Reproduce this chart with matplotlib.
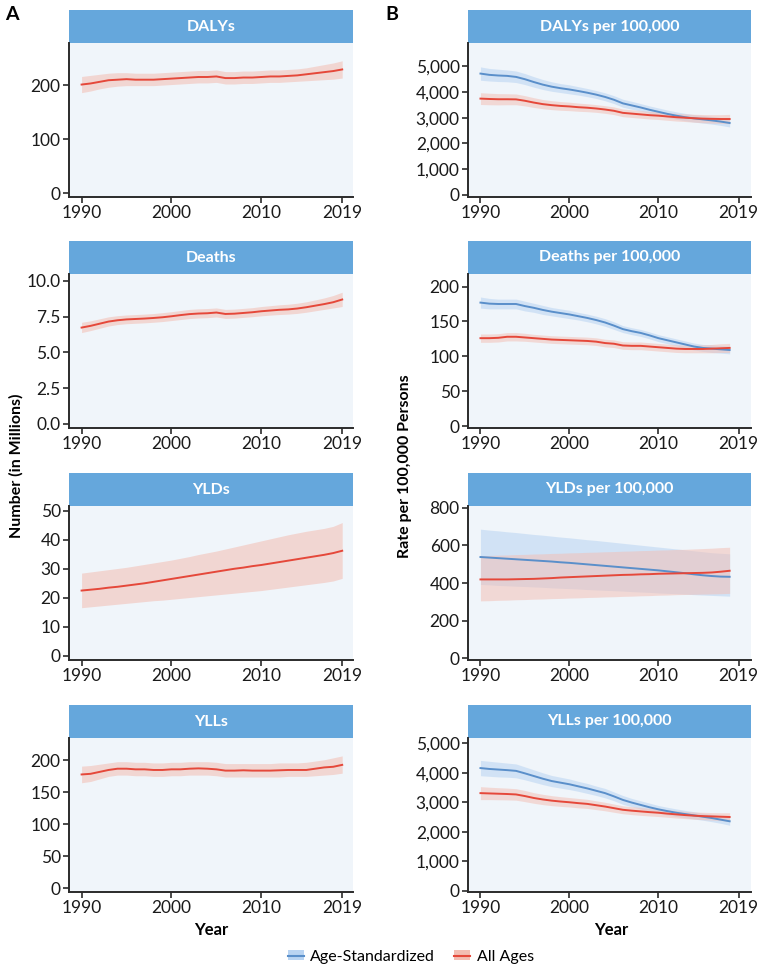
import matplotlib
matplotlib.use("Agg")
import matplotlib.pyplot as plt
from matplotlib.patches import Rectangle, Patch
from matplotlib.lines import Line2D
from matplotlib.ticker import FuncFormatter

plt.rcParams['font.family'] = ['Lato', 'DejaVu Sans']

# ---- data ----
years_a = list(range(1990, 2020))
years_b = list(range(1990, 2019))

dalys = [201, 203, 206, 209, 210, 211, 210, 210, 210, 211, 212, 213, 214, 215, 215, 216, 213, 213, 214, 214, 215, 216, 216, 217, 218, 220, 222, 224, 226, 229]
dalys_lo = [186, 189, 193, 196, 198, 199, 199, 199, 199, 200, 201, 202, 203, 204, 204, 205, 202, 202, 203, 203, 204, 205, 205, 206, 207, 208, 209, 210, 211, 213]
dalys_hi = [216, 218, 220, 222, 223, 223, 222, 222, 222, 223, 224, 225, 226, 227, 227, 228, 225, 225, 226, 226, 227, 228, 228, 229, 230, 232, 235, 238, 241, 245]

deaths = [6.73, 6.85, 7.0, 7.15, 7.24, 7.3, 7.33, 7.36, 7.4, 7.45, 7.52, 7.6, 7.67, 7.71, 7.73, 7.78, 7.68, 7.7, 7.75, 7.8, 7.87, 7.92, 7.97, 8.0, 8.06, 8.15, 8.26, 8.37, 8.5, 8.69]
deaths_lo = [6.38, 6.52, 6.68, 6.84, 6.94, 7.0, 7.03, 7.06, 7.1, 7.15, 7.22, 7.29, 7.36, 7.4, 7.42, 7.47, 7.37, 7.39, 7.44, 7.49, 7.55, 7.6, 7.64, 7.67, 7.72, 7.8, 7.9, 8.0, 8.1, 8.2]
deaths_hi = [7.1, 7.2, 7.34, 7.48, 7.56, 7.61, 7.64, 7.67, 7.71, 7.77, 7.84, 7.92, 8.0, 8.04, 8.06, 8.1, 8.0, 8.02, 8.07, 8.12, 8.2, 8.26, 8.32, 8.36, 8.43, 8.53, 8.66, 8.8, 8.97, 9.2]

ylds = [22.5, 22.8, 23.1, 23.5, 23.8, 24.2, 24.6, 25.0, 25.5, 26.0, 26.5, 27.0, 27.5, 28.0, 28.5, 29.0, 29.5, 30.0, 30.4, 30.9, 31.3, 31.8, 32.3, 32.8, 33.3, 33.8, 34.3, 34.8, 35.4, 36.2]
ylds_lo = [16.6, 16.9, 17.2, 17.5, 17.8, 18.1, 18.4, 18.7, 19.0, 19.2, 19.5, 19.8, 20.1, 20.4, 20.7, 21.0, 21.3, 21.6, 21.9, 22.2, 22.5, 22.9, 23.3, 23.7, 24.1, 24.5, 24.9, 25.3, 25.8, 26.7]
ylds_hi = [28.5, 28.9, 29.3, 29.7, 30.1, 30.5, 31.0, 31.5, 32.0, 32.5, 33.0, 33.6, 34.2, 34.9, 35.5, 36.1, 36.8, 37.5, 38.2, 38.9, 39.6, 40.3, 41.0, 41.7, 42.3, 42.9, 43.4, 43.9, 44.6, 45.9]

ylls = [178, 179, 182, 185, 187, 187, 186, 186, 185, 185, 186, 186, 187, 187.5, 187, 186, 184, 184, 184.5, 184, 184, 184, 184.5, 185, 185, 185, 187, 189, 190, 193]
ylls_lo = [165, 167, 171, 175, 177, 177, 176, 176, 175, 175, 176, 176, 177, 177, 177, 176, 174, 174, 174, 174, 174, 174, 174, 175, 175, 175, 176, 177, 178, 180]
ylls_hi = [191, 192, 194, 196, 198, 198, 197, 197, 196, 196, 197, 197, 198, 198, 198, 197, 195, 195, 195, 195, 195, 195, 196, 196, 196, 197, 199, 201, 204, 207]

dalys_as = [4720, 4670, 4645, 4630, 4590, 4500, 4390, 4290, 4210, 4150, 4100, 4040, 3975, 3900, 3810, 3700, 3560, 3480, 3400, 3310, 3230, 3150, 3080, 3020, 2975, 2935, 2895, 2850, 2795]
dalys_as_lo = [4460, 4430, 4410, 4400, 4370, 4290, 4190, 4100, 4030, 3980, 3930, 3880, 3820, 3750, 3660, 3550, 3410, 3330, 3260, 3170, 3090, 3010, 2940, 2880, 2830, 2790, 2750, 2700, 2640]
dalys_as_hi = [4980, 4920, 4890, 4860, 4820, 4720, 4600, 4490, 4400, 4330, 4280, 4210, 4140, 4060, 3970, 3860, 3720, 3640, 3550, 3460, 3380, 3300, 3230, 3170, 3120, 3090, 3050, 3010, 2960]
dalys_all = [3745, 3730, 3720, 3720, 3715, 3660, 3590, 3530, 3490, 3460, 3440, 3410, 3390, 3360, 3320, 3270, 3190, 3160, 3130, 3100, 3080, 3050, 3020, 3000, 2980, 2965, 2955, 2950, 2950]
dalys_all_lo = [3515, 3505, 3500, 3505, 3505, 3460, 3400, 3350, 3315, 3290, 3275, 3250, 3235, 3210, 3170, 3120, 3040, 3010, 2980, 2950, 2930, 2900, 2870, 2850, 2825, 2805, 2790, 2780, 2770]
dalys_all_hi = [3975, 3955, 3940, 3935, 3925, 3860, 3780, 3710, 3665, 3630, 3605, 3570, 3545, 3510, 3470, 3420, 3340, 3310, 3280, 3250, 3230, 3200, 3170, 3150, 3135, 3125, 3120, 3120, 3130]

deaths_as = [177, 175.5, 175, 175, 175, 172, 169.5, 166.5, 164, 162, 160, 157.5, 155, 152, 148.5, 144, 139, 136, 133.5, 130, 126, 123, 120, 117, 114, 112, 111, 110, 109]
deaths_as_lo = [169, 168, 168, 168, 168, 165, 163, 160, 158, 156, 154, 152, 149.5, 146.5, 143, 138.5, 134, 131, 128.5, 125, 121, 118, 115, 112, 109, 107, 105.5, 104.5, 103.5]
deaths_as_hi = [185, 183, 182, 182, 182, 179, 176, 173, 170, 168, 166, 163, 160.5, 157.5, 154, 149.5, 144, 141, 138.5, 135, 131, 128, 125, 122, 119, 117, 116.5, 115.5, 114.5]
deaths_all = [126, 126, 126.5, 128, 128, 127, 126, 125, 124, 123.5, 123, 122.5, 122, 121, 119, 118, 115.5, 115, 115, 114, 113, 112, 111, 110.5, 110.5, 110.5, 111, 111.5, 112]
deaths_all_lo = [120, 120, 120.5, 122, 122, 121.5, 120.5, 119.5, 118.5, 118, 117.5, 117, 116.5, 115.5, 113.5, 112.5, 110, 109.5, 109.5, 108.5, 107.5, 106.5, 105.5, 105, 105, 105, 105, 105.5, 105.5]
deaths_all_hi = [132, 132, 132.5, 134, 134, 133, 131.5, 130.5, 129.5, 129, 128.5, 128, 127.5, 126.5, 124.5, 123.5, 121, 120.5, 120.5, 119.5, 118.5, 117.5, 116.5, 116, 116, 116.5, 117, 118, 118.5]

ylds_as = [538, 535, 532, 529, 526, 523, 520, 517, 514, 510, 507, 503, 499, 495, 491, 487, 483, 479, 475, 471, 467, 462, 457, 452, 446, 441, 437, 434, 433]
ylds_as_lo = [392, 390, 387, 385, 383, 381, 379, 377, 374, 372, 370, 368, 365, 363, 361, 359, 357, 354, 352, 350, 347, 345, 343, 341, 338, 336, 334, 332, 330]
ylds_as_hi = [686, 681, 677, 672, 668, 663, 658, 654, 649, 644, 640, 635, 630, 626, 621, 616, 611, 606, 601, 596, 591, 586, 581, 576, 571, 566, 561, 558, 555]
ylds_all = [419, 419, 419, 419, 420, 421, 422, 424, 426, 429, 431, 433, 435, 437, 439, 441, 443, 444, 446, 447, 449, 450, 451, 452, 453, 454, 456, 460, 465]
ylds_all_lo = [305, 306, 308, 309, 311, 312, 314, 315, 317, 318, 320, 321, 323, 324, 326, 327, 329, 330, 332, 333, 335, 336, 338, 339, 340, 341, 342, 343, 345]
ylds_all_hi = [545, 546, 548, 549, 551, 552, 554, 555, 557, 558, 560, 561, 563, 564, 566, 567, 569, 570, 572, 573, 575, 576, 578, 579, 581, 583, 585, 588, 590]

ylls_as = [4160, 4130, 4110, 4090, 4065, 3980, 3890, 3800, 3720, 3665, 3610, 3540, 3470, 3390, 3310, 3200, 3080, 2990, 2910, 2830, 2760, 2700, 2645, 2600, 2555, 2510, 2465, 2410, 2355]
ylls_as_lo = [3900, 3880, 3860, 3850, 3830, 3760, 3680, 3600, 3530, 3480, 3430, 3370, 3300, 3230, 3150, 3050, 2930, 2850, 2770, 2690, 2630, 2570, 2515, 2475, 2430, 2390, 2340, 2285, 2220]
ylls_as_hi = [4420, 4390, 4360, 4330, 4300, 4200, 4100, 4000, 3910, 3850, 3790, 3710, 3640, 3550, 3470, 3350, 3230, 3130, 3050, 2970, 2890, 2830, 2775, 2725, 2680, 2630, 2590, 2535, 2490]
ylls_all = [3310, 3300, 3290, 3280, 3265, 3210, 3145, 3095, 3055, 3025, 3000, 2970, 2945, 2900, 2855, 2800, 2745, 2715, 2690, 2665, 2645, 2615, 2590, 2565, 2545, 2530, 2520, 2510, 2500]
ylls_all_lo = [3090, 3090, 3085, 3080, 3070, 3020, 2965, 2920, 2885, 2860, 2840, 2810, 2790, 2750, 2710, 2660, 2610, 2580, 2555, 2535, 2515, 2490, 2465, 2445, 2425, 2410, 2395, 2380, 2360]
ylls_all_hi = [3530, 3510, 3495, 3480, 3460, 3400, 3325, 3270, 3225, 3190, 3160, 3130, 3100, 3050, 3000, 2940, 2880, 2850, 2825, 2795, 2775, 2745, 2720, 2690, 2670, 2660, 2650, 2645, 2645]

titles_a = ["DALYs", "Deaths", "YLDs", "YLLs"]
titles_b = ["DALYs per 100,000", "Deaths per 100,000", "YLDs per 100,000", "YLLs per 100,000"]
xticks = [1990, 2000, 2010, 2019]

# colours
HEAD = '#65A7DC'
BG = '#F0F5FA'
RED = '#E5483A'
BLUE = '#5A8FCA'
RED_FILL = '#F3BDB2'
BLUE_FILL = '#B9D4F2'

W, H = 759, 966
fig = plt.figure(figsize=(W / 100, H / 100), dpi=100)

# pixel layout of the plotting areas (below the header strips)
tops = [43, 274, 506, 738]
bottoms = [197, 428, 660, 892]
left_a, left_b = 69, 468
width_a, width_b = 284, 283
head_h = 33


def make_ax(left, width, top, bottom, xmax):
    ax = fig.add_axes([left / W, 1 - bottom / H, width / W, (bottom - top) / H])
    ax.set_facecolor(BG)
    for s in ['top', 'right']:
        ax.spines[s].set_visible(False)
    for s in ['left', 'bottom']:
        ax.spines[s].set_linewidth(1.4)
        ax.spines[s].set_color('#2b2b2b')
    ax.tick_params(length=4, width=1.2, color='#2b2b2b', labelsize=12.5, labelcolor='#1a1a1a', pad=2)
    ax.set_xlim(1988.6, xmax)
    ax.set_xticks(xticks)
    return ax


def header(ax, title, top, bottom):
    h = head_h / (bottom - top)
    ax.add_patch(Rectangle((0, 1), 1, h, transform=ax.transAxes, facecolor=HEAD,
                           edgecolor='none', clip_on=False))
    ax.text(0.5, 1 + h / 2, title, transform=ax.transAxes, ha='center', va='center',
            color='white', fontsize=11.5, fontweight='bold')


comma = FuncFormatter(lambda v, p: '{:,.0f}'.format(v))
onedec = FuncFormatter(lambda v, p: '{:.1f}'.format(v))

# ---- column A ----
a_series = [(dalys, dalys_lo, dalys_hi), (deaths, deaths_lo, deaths_hi),
            (ylds, ylds_lo, ylds_hi), (ylls, ylls_lo, ylls_hi)]
a_ylims = [(-7.4, 278), (-0.28, 10.47), (-1.4, 51.6), (-5.8, 235)]
a_yticks = [[0, 100, 200], [0, 2.5, 5, 7.5, 10], [0, 10, 20, 30, 40, 50], [0, 50, 100, 150, 200]]

for i in range(4):
    ax = make_ax(left_a, width_a, tops[i], bottoms[i], 2020.2)
    y, lo, hi = a_series[i]
    ax.fill_between(years_a, lo, hi, color=RED_FILL, alpha=0.55, lw=0)
    ax.plot(years_a, y, color=RED, lw=1.4)
    ax.set_ylim(*a_ylims[i])
    ax.set_yticks(a_yticks[i])
    if i == 1:
        ax.yaxis.set_major_formatter(onedec)
    header(ax, titles_a[i], tops[i], bottoms[i])

# ---- column B ----
b_series = [(dalys_as, dalys_as_lo, dalys_as_hi, dalys_all, dalys_all_lo, dalys_all_hi),
            (deaths_as, deaths_as_lo, deaths_as_hi, deaths_all, deaths_all_lo, deaths_all_hi),
            (ylds_as, ylds_as_lo, ylds_as_hi, ylds_all, ylds_all_lo, ylds_all_hi),
            (ylls_as, ylls_as_lo, ylls_as_hi, ylls_all, ylls_all_lo, ylls_all_hi)]
b_ylims = [(-88, 5911), (-2.8, 218), (-9, 809), (-44, 5180)]
b_yticks = [[0, 1000, 2000, 3000, 4000, 5000], [0, 50, 100, 150, 200],
            [0, 200, 400, 600, 800], [0, 1000, 2000, 3000, 4000, 5000]]

for i in range(4):
    ax = make_ax(left_b, width_b, tops[i], bottoms[i], 2020.4)
    a, alo, ahi, c, clo, chi = b_series[i]
    ax.fill_between(years_b, alo, ahi, color=BLUE_FILL, alpha=0.55, lw=0)
    ax.fill_between(years_b, clo, chi, color=RED_FILL, alpha=0.5, lw=0)
    ax.plot(years_b, a, color=BLUE, lw=1.4)
    ax.plot(years_b, c, color=RED, lw=1.4)
    ax.set_ylim(*b_ylims[i])
    ax.set_yticks(b_yticks[i])
    ax.yaxis.set_major_formatter(comma)
    header(ax, titles_b[i], tops[i], bottoms[i])

# ---- labels ----
fig.text(5 / W, 1 - 14 / H, 'A', fontsize=14, fontweight='bold', va='center', ha='left')
fig.text(385 / W, 1 - 14 / H, 'B', fontsize=14, fontweight='bold', va='center', ha='left')
fig.text(16 / W, 1 - 466 / H, 'Number (in Millions)', rotation=90, fontsize=11.5,
         fontweight='bold', va='center', ha='center')
fig.text(405 / W, 1 - 466 / H, 'Rate per 100,000 Persons', rotation=90, fontsize=11.5,
         fontweight='bold', va='center', ha='center')
fig.text(211 / W, 1 - 930 / H, 'Year', fontsize=12, fontweight='bold', ha='center', va='center')
fig.text(611 / W, 1 - 930 / H, 'Year', fontsize=12, fontweight='bold', ha='center', va='center')

handles = [(Patch(facecolor=BLUE_FILL, edgecolor='none'), Line2D([], [], color=BLUE, lw=1.5)),
           (Patch(facecolor=RED_FILL, edgecolor='none'), Line2D([], [], color=RED, lw=1.5))]
fig.legend(handles, ['Age-Standardized', 'All Ages'], loc='center', ncol=2,
           bbox_to_anchor=(411 / W, 1 - 957 / H), frameon=False, fontsize=11.5,
           handlelength=1.0, handleheight=0.6, columnspacing=1.2, handletextpad=0.4)

fig.savefig('out.png', dpi=100)
